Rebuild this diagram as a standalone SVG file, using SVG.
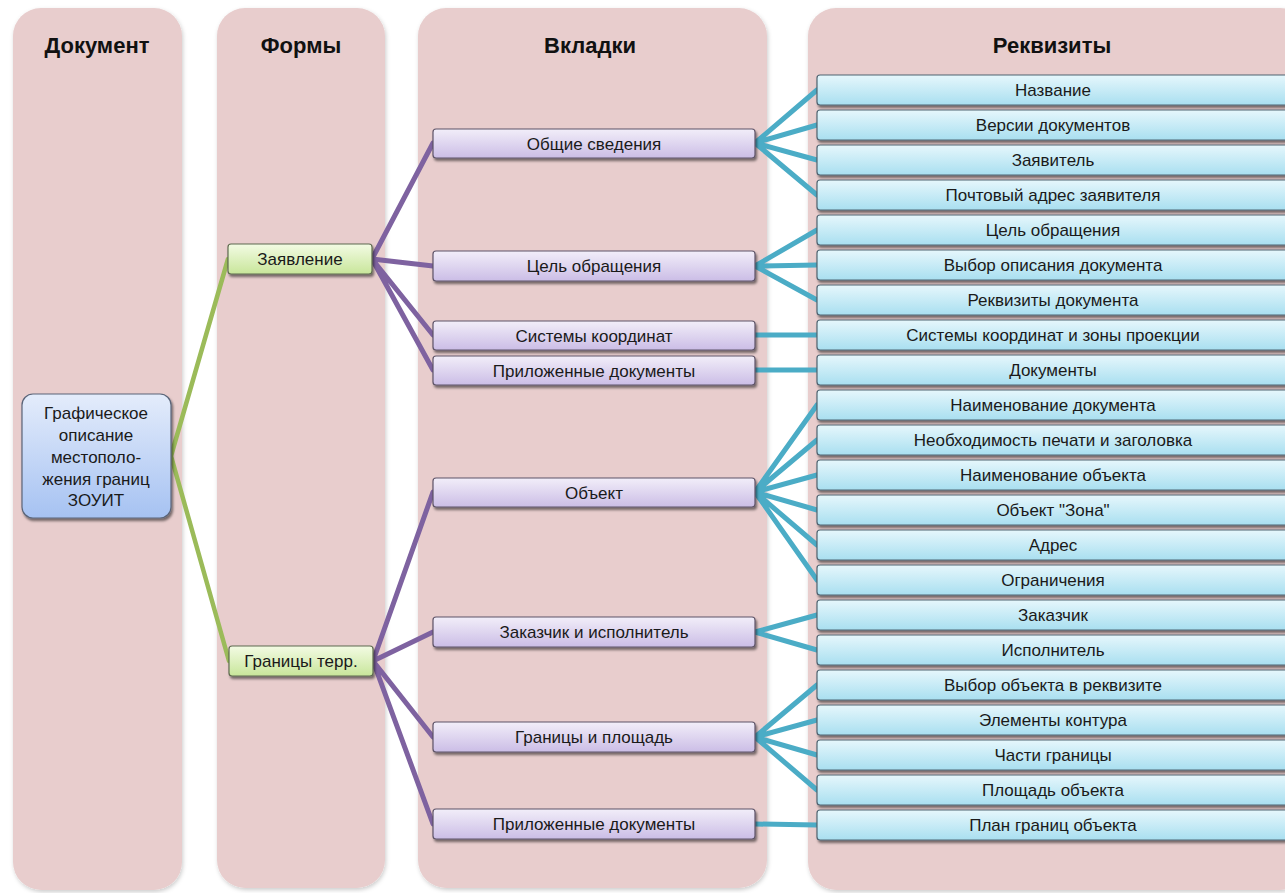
<svg xmlns="http://www.w3.org/2000/svg" width="1285" height="893" viewBox="0 0 1285 893">
<defs>
<linearGradient id="gDoc" x1="0" y1="0" x2="0" y2="1"><stop offset="0" stop-color="#E4ECFB"/><stop offset="1" stop-color="#A6C2F2"/></linearGradient>
<linearGradient id="gForm" x1="0" y1="0" x2="0" y2="1"><stop offset="0" stop-color="#F3FBE4"/><stop offset="1" stop-color="#C8E69A"/></linearGradient>
<linearGradient id="gTab" x1="0" y1="0" x2="0" y2="1"><stop offset="0" stop-color="#F2EEF9"/><stop offset="1" stop-color="#CBBDE6"/></linearGradient>
<linearGradient id="gReq" x1="0" y1="0" x2="0" y2="1"><stop offset="0" stop-color="#E6F7FC"/><stop offset="1" stop-color="#A9DFF0"/></linearGradient>
<filter id="sh" x="-10%" y="-30%" width="120%" height="170%"><feDropShadow dx="1.5" dy="2.5" stdDeviation="1.2" flood-color="#000" flood-opacity="0.5"/></filter>
<filter id="psh" x="-5%" y="-5%" width="110%" height="110%"><feDropShadow dx="1" dy="2" stdDeviation="2" flood-color="#000" flood-opacity="0.2"/></filter>
</defs>
<style>
.panel{fill:#E8CDCD;filter:url(#psh)}
.hdr{font-family:"Liberation Sans",Arial,sans-serif;font-weight:bold;font-size:22px;fill:#111;text-anchor:middle}
.t{font-family:"Liberation Sans",Arial,sans-serif;font-size:17px;fill:#1a1a1a;text-anchor:middle}
.doc{fill:url(#gDoc);stroke:#5a6478;stroke-width:1.2;filter:url(#sh)}
.form{fill:url(#gForm);stroke:#5f6b50;stroke-width:1.2;filter:url(#sh)}
.tab{fill:url(#gTab);stroke:#5e5468;stroke-width:1.2;filter:url(#sh)}
.req{fill:url(#gReq);stroke:#4f6470;stroke-width:1.2;filter:url(#sh)}
.cg{stroke:#9BBB59;stroke-width:4.5;fill:none;stroke-linecap:round}
.cp{stroke:#7E62A0;stroke-width:5;fill:none;stroke-linecap:round}
.ct{stroke:#4BACC6;stroke-width:5;fill:none;stroke-linecap:round}
</style>
<rect width="1285" height="893" fill="#fff"/>
<g id="panels">
<rect class="panel" x="13" y="8" width="169" height="882" rx="28"/>
<rect class="panel" x="217" y="8" width="168" height="880" rx="28"/>
<rect class="panel" x="418" y="8" width="349" height="880" rx="28"/>
<rect class="panel" x="808" y="8" width="500" height="882" rx="28"/>
<text class="hdr" x="97" y="53">Документ</text>
<text class="hdr" x="301" y="53">Формы</text>
<text class="hdr" x="590" y="53">Вкладки</text>
<text class="hdr" x="1052" y="53">Реквизиты</text>
</g>
<g id="connectors">
<path class="cg" d="M171 456 L228 259 M171 456 L229 661"/>
<path class="cp" d="M372 259 L433 143 M372 259 L433 266 M372 259 L433 335 M372 259 L433 370"/>
<path class="cp" d="M373 661 L433 492 M373 661 L433 632 M373 661 L433 737 M373 661 L433 824"/>
<path class="ct" d="M755 143 L817 90 M755 143 L817 125 M755 143 L817 160 M755 143 L817 195"/>
<path class="ct" d="M755 266 L817 230 M755 266 L817 265 M755 266 L817 300"/>
<path class="ct" d="M755 335 L817 335 M755 370 L817 370"/>
<path class="ct" d="M755 492 L817 405 M755 492 L817 440 M755 492 L817 475 M755 492 L817 510 M755 492 L817 545 M755 492 L817 580"/>
<path class="ct" d="M755 632 L817 615 M755 632 L817 650"/>
<path class="ct" d="M755 737 L817 685 M755 737 L817 720 M755 737 L817 755 M755 737 L817 790"/>
<path class="ct" d="M755 824 L817 825"/>
</g>
<g id="doc">
<rect class="doc" x="22" y="394" width="149" height="124" rx="11"/>
<text class="t" x="96" y="419">Графическое</text>
<text class="t" x="96" y="441">описание</text>
<text class="t" x="96" y="463">местополо-</text>
<text class="t" x="96" y="485">жения границ</text>
<text class="t" x="96" y="506">ЗОУИТ</text>
</g>
<g id="form1"><rect class="form" x="228" y="244" width="144" height="30" rx="3"/><text class="t" x="300" y="265">Заявление</text></g>
<g id="form2"><rect class="form" x="229" y="646" width="144" height="30" rx="3"/><text class="t" x="301" y="667">Границы терр.</text></g>
<g id="tab1"><rect class="tab" x="433" y="129" width="322" height="29" rx="3"/><text class="t" x="594" y="150">Общие сведения</text></g>
<g id="tab2"><rect class="tab" x="433" y="251" width="322" height="30" rx="3"/><text class="t" x="594" y="272">Цель обращения</text></g>
<g id="tab3"><rect class="tab" x="433" y="321" width="322" height="29" rx="3"/><text class="t" x="594" y="342">Системы координат</text></g>
<g id="tab4"><rect class="tab" x="433" y="356" width="322" height="29" rx="3"/><text class="t" x="594" y="377">Приложенные документы</text></g>
<g id="tab5"><rect class="tab" x="433" y="478" width="322" height="29" rx="3"/><text class="t" x="594" y="499">Объект</text></g>
<g id="tab6"><rect class="tab" x="433" y="617" width="322" height="30" rx="3"/><text class="t" x="594" y="638">Заказчик и исполнитель</text></g>
<g id="tab7"><rect class="tab" x="433" y="722" width="322" height="30" rx="3"/><text class="t" x="594" y="743">Границы и площадь</text></g>
<g id="tab8"><rect class="tab" x="433" y="809" width="322" height="30" rx="3"/><text class="t" x="594" y="830">Приложенные документы</text></g>
<g id="r0"><rect class="req" x="817" y="75" width="480" height="30" rx="3"/><text class="t" x="1053" y="96">Название</text></g>
<g id="r1"><rect class="req" x="817" y="110" width="480" height="30" rx="3"/><text class="t" x="1053" y="131">Версии документов</text></g>
<g id="r2"><rect class="req" x="817" y="145" width="480" height="30" rx="3"/><text class="t" x="1053" y="166">Заявитель</text></g>
<g id="r3"><rect class="req" x="817" y="180" width="480" height="30" rx="3"/><text class="t" x="1053" y="201">Почтовый адрес заявителя</text></g>
<g id="r4"><rect class="req" x="817" y="215" width="480" height="30" rx="3"/><text class="t" x="1053" y="236">Цель обращения</text></g>
<g id="r5"><rect class="req" x="817" y="250" width="480" height="30" rx="3"/><text class="t" x="1053" y="271">Выбор описания документа</text></g>
<g id="r6"><rect class="req" x="817" y="285" width="480" height="30" rx="3"/><text class="t" x="1053" y="306">Реквизиты документа</text></g>
<g id="r7"><rect class="req" x="817" y="320" width="480" height="30" rx="3"/><text class="t" x="1053" y="341">Системы координат и зоны проекции</text></g>
<g id="r8"><rect class="req" x="817" y="355" width="480" height="30" rx="3"/><text class="t" x="1053" y="376">Документы</text></g>
<g id="r9"><rect class="req" x="817" y="390" width="480" height="30" rx="3"/><text class="t" x="1053" y="411">Наименование документа</text></g>
<g id="r10"><rect class="req" x="817" y="425" width="480" height="30" rx="3"/><text class="t" x="1053" y="446">Необходимость печати и заголовка</text></g>
<g id="r11"><rect class="req" x="817" y="460" width="480" height="30" rx="3"/><text class="t" x="1053" y="481">Наименование объекта</text></g>
<g id="r12"><rect class="req" x="817" y="495" width="480" height="30" rx="3"/><text class="t" x="1053" y="516">Объект "Зона"</text></g>
<g id="r13"><rect class="req" x="817" y="530" width="480" height="30" rx="3"/><text class="t" x="1053" y="551">Адрес</text></g>
<g id="r14"><rect class="req" x="817" y="565" width="480" height="30" rx="3"/><text class="t" x="1053" y="586">Ограничения</text></g>
<g id="r15"><rect class="req" x="817" y="600" width="480" height="30" rx="3"/><text class="t" x="1053" y="621">Заказчик</text></g>
<g id="r16"><rect class="req" x="817" y="635" width="480" height="30" rx="3"/><text class="t" x="1053" y="656">Исполнитель</text></g>
<g id="r17"><rect class="req" x="817" y="670" width="480" height="30" rx="3"/><text class="t" x="1053" y="691">Выбор объекта в реквизите</text></g>
<g id="r18"><rect class="req" x="817" y="705" width="480" height="30" rx="3"/><text class="t" x="1053" y="726">Элементы контура</text></g>
<g id="r19"><rect class="req" x="817" y="740" width="480" height="30" rx="3"/><text class="t" x="1053" y="761">Части границы</text></g>
<g id="r20"><rect class="req" x="817" y="775" width="480" height="30" rx="3"/><text class="t" x="1053" y="796">Площадь объекта</text></g>
<g id="r21"><rect class="req" x="817" y="810" width="480" height="30" rx="3"/><text class="t" x="1053" y="831">План границ объекта</text></g>
</svg>
